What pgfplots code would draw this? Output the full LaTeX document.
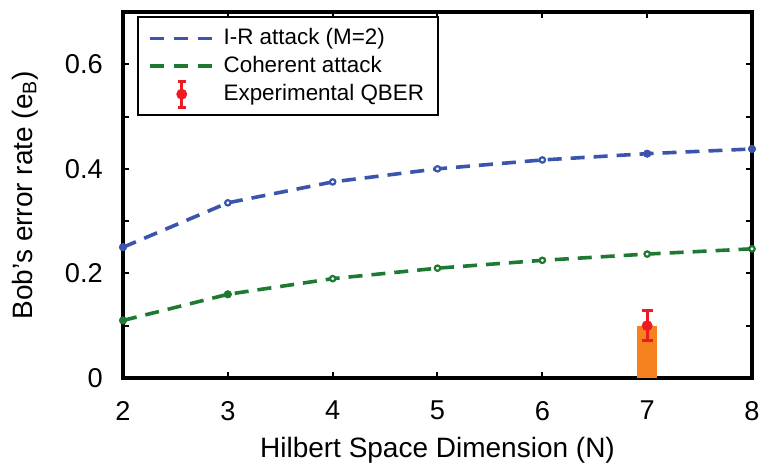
\documentclass[border=0pt]{standalone}
\usepackage{pgfplots}
\pgfplotsset{compat=1.18}
\usepackage{fontspec}
\setmainfont{Liberation Sans}
\definecolor{irblue}{RGB}{59,84,172}
\definecolor{cohgreen}{RGB}{30,122,50}
\definecolor{qred}{RGB}{237,28,36}
\definecolor{barorange}{RGB}{245,130,31}
\begin{document}
\begin{tikzpicture}
\begin{axis}[
  width=314.5pt, height=183pt, scale only axis,
  xmin=2, xmax=8, ymin=0, ymax=0.7,
  xtick={2,...,8},
  ytick={0,0.2,0.4,0.6},
  minor ytick={0.1,0.3,0.5},
  yticklabel style={/pgf/number format/fixed, xshift=-6.6pt},
  xticklabel style={yshift=-8pt},
  /pgf/number format/assume math mode=true,
  axis line style={line width=1.7pt},
  major tick style={line width=1pt, black},
  minor tick style={line width=1pt, black},
  major tick length=3pt, minor tick length=3pt,
  ticklabel style={font=\fontsize{13.6}{15}\selectfont},
  xlabel={Hilbert Space Dimension (N)},
  ylabel={Bob’s error rate (e\textsubscript{B})},
  label style={font=\fontsize{14}{16}\selectfont, inner sep=0pt},
  xlabel style={at={(axis description cs:0.5,-0.216)}, anchor=base},
  ylabel style={at={(axis description cs:-0.156,0.5)}, anchor=center},
  legend style={at={(0.022,0.988)}, anchor=north west, draw=black, line width=1pt,
    font=\fontsize{11.2}{13}\selectfont, row sep=-1.3pt, inner xsep=5pt, inner ysep=3pt,
    nodes={text height=8.6pt, text depth=2.6pt},
    /tikz/every odd column/.append style={column sep=3pt}},
  legend cell align=left,
  clip=false,
]
\addplot[ybar, bar width=10pt, fill=barorange, draw=none, forget plot]
  coordinates {(7,0.1)};
\addplot[irblue, line width=1.8pt, dash pattern=on 7pt off 4.5pt,
  mark=*, mark size=1.35pt, mark options={solid, fill=white, draw=irblue, line width=1.1pt},
  legend image code/.code={\draw[irblue, line width=1.9pt, dash pattern=on 7pt off 5pt] (0pt,0pt) -- (31pt,0pt);}]
  coordinates {(2,0.250)(3,0.335)(4,0.375)(5,0.400)(6,0.417)(7,0.429)(8,0.438)};
\addlegendentry{I-R attack (M=2)}
\addplot[cohgreen, line width=1.8pt, dash pattern=on 7pt off 4.5pt,
  mark=*, mark size=1.35pt, mark options={solid, fill=white, draw=cohgreen, line width=1.1pt},
  legend image code/.code={\draw[cohgreen, line width=1.9pt, dash pattern=on 7pt off 5pt] (0pt,0pt) -- (31pt,0pt);}]
  coordinates {(2,0.110)(3,0.160)(4,0.190)(5,0.210)(6,0.225)(7,0.237)(8,0.247)};
\addlegendentry{Coherent attack}
% a few markers appear filled in the original
\addplot[only marks, mark=*, mark size=1.8pt, irblue, forget plot]
  coordinates {(2,0.250)(7,0.429)(8,0.438)};
\addplot[only marks, mark=*, mark size=1.8pt, cohgreen, forget plot]
  coordinates {(2,0.110)(3,0.160)};
\addplot[qred, only marks, mark=*, mark size=2.5pt,
  legend image code/.code={
    \draw[qred, line width=1.5pt] (16pt,-6.5pt) -- (16pt,6.5pt);
    \draw[qred, line width=1.5pt] (14pt,6.5pt) -- (18pt,6.5pt) (14pt,-6.5pt) -- (18pt,-6.5pt);
    \fill[qred] (16pt,0pt) circle (2.2pt);},
  error bars/.cd, y dir=both, y explicit,
  error bar style={line width=1.5pt, qred},
  error mark options={rotate=90, mark size=2.8pt, line width=1.5pt, qred}]
  coordinates {(7,0.1) += (0,0.03) -= (0,0.028)};
\addlegendentry{Experimental QBER}
\end{axis}
\pgfresetboundingbox
\path ([xshift=-61.5pt, yshift=6pt]current axis.north west)
  rectangle ([xshift=3.5pt, yshift=-42.5pt]current axis.south east);
\end{tikzpicture}
\end{document}
